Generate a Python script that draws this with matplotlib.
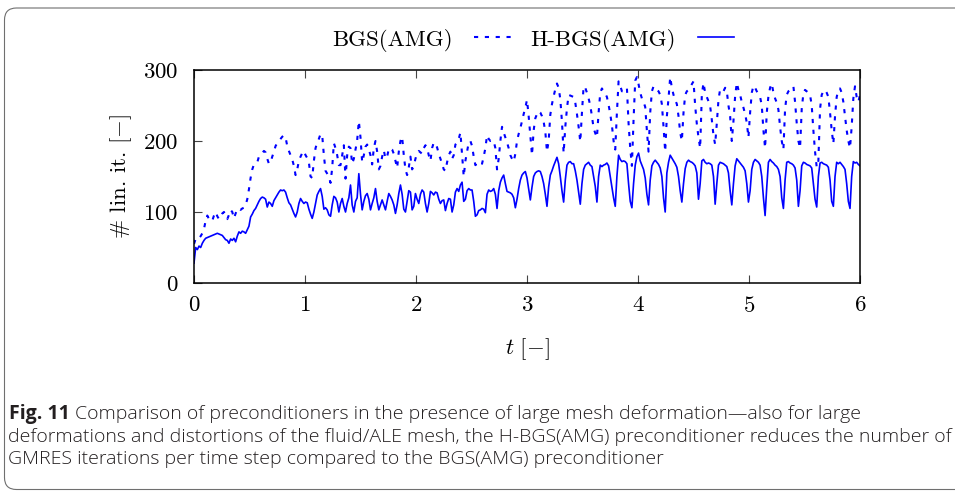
import numpy as np
import matplotlib
matplotlib.use('Agg')
import matplotlib.pyplot as plt
from matplotlib.patches import FancyBboxPatch
from matplotlib.transforms import IdentityTransform

# ---------------- data ----------------
time_step = 0.015  # time between samples

# H-BGS(AMG): solid line
hbgs = [
    28, 50, 47, 52, 50, 56, 60, 63, 64, 65,
    66, 67, 68, 69, 70, 69, 68, 67, 64, 61,
    60, 56, 62, 60, 63, 58, 66, 72, 70, 73,
    72, 70, 75, 80, 93, 97, 102, 105, 110, 115,
    119, 121, 120, 118, 107, 114, 112, 108, 116, 120,
    124, 128, 131, 130, 131, 128, 120, 113, 110, 104,
    98, 93, 100, 112, 119, 115, 112, 114, 113, 104,
    97, 91, 100, 112, 124, 129, 133, 122, 104, 106,
    103, 96, 94, 110, 122, 120, 114, 100, 112, 119,
    108, 100, 112, 120, 138, 110, 100, 115, 120, 154,
    125, 103, 115, 123, 126, 118, 103, 112, 120, 133,
    115, 103, 110, 117, 110, 103, 115, 126, 122, 117,
    110, 98, 110, 126, 138, 125, 104, 100, 115, 130,
    128, 103, 108, 126, 118, 112, 125, 131, 128, 112,
    100, 112, 129, 127, 124, 128, 127, 118, 112, 116,
    117, 102, 112, 119, 118, 100, 110, 128, 133, 129,
    138, 142, 115, 118, 130, 133, 131, 131, 115, 94,
    96, 102, 103, 105, 104, 99, 125, 131, 129, 130,
    133, 125, 105, 130, 142, 148, 152, 140, 129, 128,
    127, 125, 120, 106, 118, 133, 145, 152, 155, 157,
    148, 132, 117, 135, 150, 155, 157, 158, 157, 150,
    140, 125, 108, 135, 152, 158, 165, 171, 177, 168,
    150, 130, 114, 145, 166, 170, 171, 168, 168, 158,
    145, 128, 111, 140, 160, 166, 168, 170, 166, 164,
    150, 136, 114, 150, 166, 164, 166, 167, 169, 165,
    150, 135, 120, 108, 150, 180, 174, 171, 172, 171,
    168, 140, 115, 106, 140, 166, 178, 183, 172, 166,
    160, 148, 125, 110, 145, 165, 170, 173, 170, 167,
    162, 150, 120, 100, 155, 170, 180, 176, 172, 168,
    163, 150, 130, 114, 140, 161, 170, 173, 171, 170,
    168, 165, 155, 118, 140, 172, 174, 170, 168, 169,
    168, 166, 150, 111, 140, 166, 170, 169, 168, 166,
    164, 155, 130, 110, 140, 165, 175, 172, 169, 166,
    163, 158, 140, 114, 130, 160, 170, 174, 172, 170,
    166, 150, 120, 95, 135, 170, 174, 171, 169, 166,
    164, 160, 150, 120, 105, 145, 170, 171, 169, 168,
    166, 162, 145, 108, 130, 165, 170, 169, 167, 166,
    165, 162, 140, 118, 107, 150, 169, 170, 168, 167,
    166, 163, 145, 115, 108, 150, 170, 168, 170, 167,
    164, 160, 140, 115, 105, 150, 171, 169, 170, 167,
    165,
]

# BGS(AMG): dotted line
bgs = [
    55, 62, 61, 63, 66, 70, 76, 88, 95, 90,
    87, 88, 95, 100, 94, 90, 93, 98, 100, 94,
    90, 96, 103, 100, 91, 98, 104, 105, 103, 105,
    106, 110, 118, 132, 148, 160, 167, 168, 170, 178,
    181, 183, 186, 184, 175, 168, 170, 178, 185, 193,
    197, 200, 203, 206, 208, 205, 193, 186, 180, 174,
    165, 152, 160, 172, 178, 183, 186, 180, 176, 170,
    150, 148, 172, 190, 198, 203, 210, 208, 180, 158,
    154, 150, 141, 162, 197, 190, 180, 166, 166, 180,
    194, 147, 180, 192, 190, 168, 175, 188, 201, 228,
    205, 170, 180, 192, 195, 188, 180, 167, 190, 200,
    185, 160, 165, 178, 187, 175, 178, 189, 190, 188,
    182, 172, 162, 185, 200, 206, 180, 160, 152, 163,
    178, 160, 165, 175, 183, 186, 184, 182, 190, 194,
    190, 180, 172, 190, 198, 195, 191, 182, 175, 168,
    160, 158, 170, 180, 185, 175, 180, 195, 198, 203,
    212, 180, 150, 172, 185, 198, 200, 193, 178, 166,
    168, 170, 167, 168, 178, 190, 208, 203, 200, 201,
    200, 190, 160, 175, 200, 220, 212, 205, 198, 190,
    180, 175, 171, 182, 200, 210, 218, 228, 238, 247,
    258, 235, 208, 180, 215, 232, 238, 242, 240, 235,
    227, 213, 185, 200, 237, 252, 263, 273, 281, 275,
    259, 227, 183, 220, 246, 265, 264, 263, 262, 254,
    238, 220, 199, 240, 277, 275, 268, 260, 250, 235,
    218, 211, 205, 240, 268, 274, 270, 267, 262, 251,
    238, 222, 200, 188, 240, 284, 278, 270, 271, 272,
    275, 225, 190, 165, 230, 285, 290, 280, 268, 260,
    255, 248, 215, 185, 240, 270, 277, 275, 272, 270,
    265, 252, 220, 185, 235, 260, 290, 275, 265, 258,
    252, 235, 212, 200, 240, 265, 270, 272, 275, 280,
    284, 250, 224, 205, 190, 265, 282, 268, 262, 256,
    249, 230, 208, 195, 225, 258, 273, 272, 270, 275,
    270, 250, 235, 200, 228, 263, 282, 272, 265, 255,
    247, 238, 226, 205, 240, 268, 278, 275, 270, 266,
    262, 250, 215, 190, 240, 263, 275, 281, 268, 260,
    254, 244, 220, 200, 188, 245, 265, 270, 272, 275,
    277, 255, 225, 200, 190, 245, 267, 272, 270, 268,
    265, 250, 215, 185, 163, 172, 245, 265, 270, 272,
    268, 262, 240, 215, 196, 235, 262, 272, 274, 268,
    255, 235, 215, 200, 190, 220, 260, 277, 262, 255,
    265,
]

x_ticks = [0, 1, 2, 3, 4, 5, 6]
y_ticks = [0, 100, 200, 300]
series_labels = ['BGS(AMG)', 'H-BGS(AMG)']
x_label = r'$t\ [-]$'
y_label = r'# lin. it. $[-]$'
caption_bold = 'Fig. 11'
caption_lines = [
    'Comparison of preconditioners in the presence of large mesh deformation\u2014also for large',
    'deformations and distortions of the fluid/ALE mesh, the H-BGS(AMG) preconditioner reduces the number of',
    'GMRES iterations per time step compared to the BGS(AMG) preconditioner',
]

# ---------------- figure ----------------
plt.rcParams['font.family'] = 'cmr10'
plt.rcParams['mathtext.fontset'] = 'cm'
plt.rcParams['axes.formatter.use_mathtext'] = True

W, H = 955, 491
fig = plt.figure(figsize=(W / 100, H / 100), dpi=100)
ax = fig.add_axes([194 / W, 1 - 283 / H, 666 / W, 213 / H])

t = np.arange(len(hbgs)) * time_step
blue = '#0000ff'
ax.plot(t, bgs, color=blue, lw=1.5, linestyle=(0, (2.0, 3.2)), label=series_labels[0])
ax.plot(t, hbgs, color=blue, lw=1.2, label=series_labels[1])

ax.set_xlim(0, 6)
ax.set_ylim(0, 300)
ax.set_xticks(x_ticks)
ax.set_yticks(y_ticks)
ax.tick_params(axis='both', direction='in', length=5.5, width=0.8, color='#444444',
               labelsize=16.5, top=True, right=False)
ax.tick_params(axis='x', pad=9)
ax.tick_params(axis='y', pad=11)
for s in ax.spines.values():
    s.set_linewidth(1.1)

ax.set_xlabel(x_label, fontsize=16.5)
ax.xaxis.set_label_coords(0.5, -0.25)
ax.set_ylabel(y_label, fontsize=16.5)
ax.yaxis.set_label_coords(-0.09, 0.5)

fig.legend(loc='center', bbox_to_anchor=(533 / W, 1 - 40 / H), ncol=2, frameon=False,
           markerfirst=False, fontsize=16.5, handlelength=1.6, handletextpad=0.95,
           columnspacing=0.85, borderpad=0, borderaxespad=0)

# ---------------- caption ----------------
cap_kw = dict(family='Open Sans', color='#231f20', weight='light')
baselines = [419, 441.5, 463.5]
probe = fig.text(8 / W, 1 - baselines[1] / H, caption_lines[1], fontsize=11,
                 va='baseline', ha='left', **cap_kw)
fig.canvas.draw()
rend = fig.canvas.get_renderer()
wpx = probe.get_window_extent(rend).width
fs = 11 * 940 / wpx
probe.set_fontsize(fs)
fig.text(9 / W, 1 - baselines[0] / H, caption_bold, fontsize=fs, weight='bold',
         va='baseline', ha='left', family='Open Sans', color='#231f20')
fig.text(75 / W, 1 - baselines[0] / H, caption_lines[0], fontsize=fs,
         va='baseline', ha='left', **cap_kw)
fig.text(8 / W, 1 - baselines[2] / H, caption_lines[2], fontsize=fs,
         va='baseline', ha='left', **cap_kw)

# frame around the figure
box = FancyBboxPatch((4.5, 1.5), 1000, 481.5, boxstyle='round,pad=0,rounding_size=12',
                     transform=IdentityTransform(), fill=False, ec='#6f6f6f', lw=0.8)
fig.add_artist(box)

fig.savefig('out.png', dpi=100)
